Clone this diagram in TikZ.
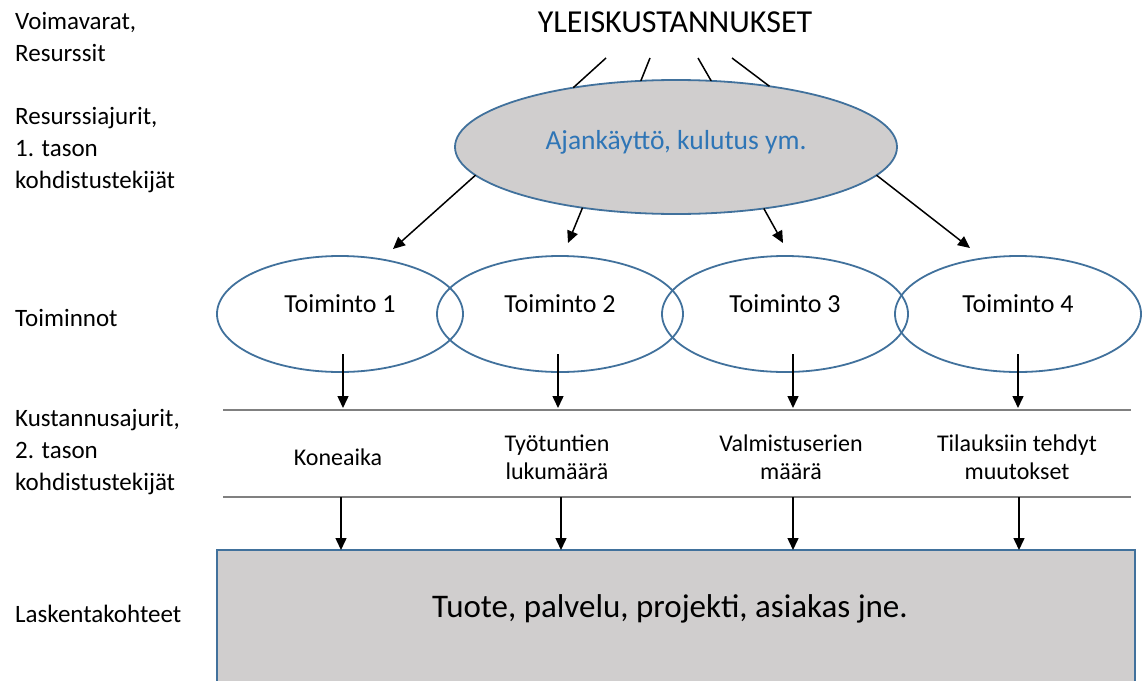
\documentclass[tikz,border=0pt]{standalone}
\usepackage{fontspec}
\setmainfont{Carlito}
\usetikzlibrary{shapes.geometric,arrows.meta,calc}
\definecolor{eblue}{HTML}{41719C}
\definecolor{efill}{HTML}{D0CECE}
\definecolor{tblue}{HTML}{2E75B6}
\definecolor{lgray}{HTML}{808080}
\begin{document}
\begin{tikzpicture}[x=1pt,y=-1pt,
  arr/.style={-{Triangle[length=12pt,width=11pt]},line width=1.5pt,black},
  plain/.style={line width=1.5pt,black},
  act/.style={ellipse,draw=eblue,line width=1.8pt,minimum width=246pt,minimum height=116pt,
    inner sep=0pt,outer sep=0pt,text height=17pt,text depth=21pt,font=\fontsize{26}{30}\selectfont},
  lab/.style={anchor=base west,align=left,inner sep=0pt,font=\fontsize{25}{32}\selectfont},
  drv/.style={align=center,inner sep=0pt,font=\fontsize{24}{28}\selectfont},
  rulerline/.style={line width=1.5pt,lgray}]
\useasboundingbox (0,0) rectangle (1143,680);
\clip (0,0) rectangle (1143,680);

% left column labels (anchored at the baseline of their last line)
\node[lab] (l1) at (15,61) {Voimavarat,\\Resurssit};
\node[lab] (l2) at (15,188) {Resurssiajurit,\\1. tason\\kohdistustekijät};
\node[lab] (l3) at (15,326) {Toiminnot};
\node[lab] (l4) at (15,490) {Kustannusajurit,\\2. tason\\kohdistustekijät};
\node[lab] (l5) at (15,622) {Laskentakohteet};

% title
\node[anchor=base,inner sep=0pt,font=\fontsize{32}{36}\selectfont] (title) at (675,32) {YLEISKUSTANNUKSET};

% big ellipse
\node[ellipse,draw=eblue,fill=efill,line width=1.8pt,minimum width=442pt,minimum height=134pt,
  inner sep=0pt,outer sep=0pt,text height=18pt,text depth=14pt,text=tblue,
  font=\fontsize{27.5}{30}\selectfont] (big) at (676,147) {Ajankäyttö, kulutus ym.};

\coordinate (u1) at (606,58);
\coordinate (u2) at (650,58);
\coordinate (u3) at (698,58);
\coordinate (u4) at (732,58);
\draw[plain] (u1) -- (big.150.2);
\draw[plain] (u2) -- (big.118.6);
\draw[plain] (u3) -- (big.62.7);
\draw[plain] (u4) -- (big.33.8);

% activities
\node[act] (t1) at (340,314) {Toiminto 1};
\node[act] (t2) at (560,314) {Toiminto 2};
\node[act] (t3) at (785,314) {Toiminto 3};
\node[act] (t4) at (1018,314) {Toiminto 4};

\coordinate (p1) at (393,249);
\coordinate (p2) at (568,243);
\coordinate (p3) at (783,243);
\coordinate (p4) at (970,248);
\draw[arr] (big.188.2) -- (p1);
\draw[arr] (big.213.8) -- (p2);
\draw[arr] (big.325.3) -- (p3);
\draw[arr] (big.352.1) -- (p4);

% rules
\coordinate (r1) at (0,408);
\coordinate (r2) at (0,497);
\draw[rulerline] (223,410) -- (1131,410);
\draw[rulerline] (223,497) -- (1131,497);

\draw[arr] ([xshift=3pt,yshift=-40pt]t1.center) -- ([xshift=3pt]t1.center |- r1);
\draw[arr] ([xshift=-2pt,yshift=-40pt]t2.center) -- ([xshift=-2pt]t2.center |- r1);
\draw[arr] ([xshift=8pt,yshift=-40pt]t3.center) -- ([xshift=8pt]t3.center |- r1);
\draw[arr] ([yshift=-40pt]t4.center) -- (t4.center |- r1);

% drivers
\node[drv] (d1) at (338,457) {Koneaika};
\node[drv] (d2) at (557,457) {Työtuntien\\lukumäärä};
\node[drv] (d3) at (791,457) {Valmistuserien\\määrä};
\node[drv] (d4) at (1017,457) {Tilauksiin tehdyt\\muutokset};

% cost objects
\node[draw=eblue,fill=efill,line width=1.5pt,anchor=north west,minimum width=918pt,minimum height=140pt,
  inner sep=0pt,outer sep=0pt,text height=21pt,text depth=27pt,
  font=\fontsize{33}{36}\selectfont] (obj) at (217,550) {\hspace*{-12pt}Tuote, palvelu, projekti, asiakas jne.};

\draw[arr] ([xshift=3pt]d1.center |- r2) -- ([xshift=3pt]d1.center |- obj.north);
\draw[arr] ([xshift=4pt]d2.center |- r2) -- ([xshift=4pt]d2.center |- obj.north);
\draw[arr] ([xshift=2pt]d3.center |- r2) -- ([xshift=2pt]d3.center |- obj.north);
\draw[arr] ([xshift=2pt]d4.center |- r2) -- ([xshift=2pt]d4.center |- obj.north);
\end{tikzpicture}
\end{document}
